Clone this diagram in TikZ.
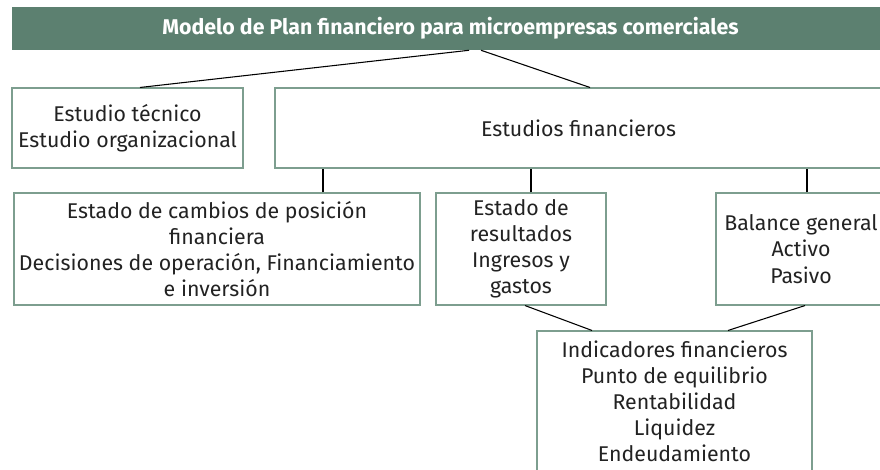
\documentclass[tikz,border=0pt]{standalone}
\usepackage{fontspec}
\setmainfont{Fira Sans}
\usepackage{tikz}
\usepackage{xcolor}

\definecolor{barragreen}{RGB}{92,128,112}
\definecolor{bordegreen}{RGB}{125,158,143}
\definecolor{textogris}{RGB}{34,34,34}

\tikzset{
  caja/.style={draw=bordegreen, line width=0.8pt, align=center, inner sep=0pt,
    text=textogris, font=\fontsize{16}{19.6}\selectfont},
  enlace/.style={draw=black, line width=0.8pt},
}

\begin{document}
\begin{tikzpicture}[x=0.75pt,y=0.75pt,yscale=-1,xscale=1]
\useasboundingbox (0,0) rectangle (880,469);

%Shape: Title bar
\node (titulo) [fill=barragreen, inner sep=0pt, minimum width=657.75pt, minimum height=32.25pt, text=white, font=\fontsize{16}{18}\selectfont\bfseries] at (450.5,28.5) {Modelo de Plan financiero para microempresas comerciales};

%Shape: Rectangle
\node (tecnico) [caja, minimum width=173.25pt, minimum height=60pt] at (127.5,128) {Estudio técnico\\Estudio organizacional};
%Shape: Rectangle
\node (financ) [caja, minimum width=455.25pt, minimum height=60pt] at (578.5,128) {Estudios financieros};

%Shape: Rectangle
\node (cambios) [caja, minimum width=304.5pt, minimum height=84pt] at (217,249) {Estado de cambios de posición\\financiera\\Decisiones de operación, Financiamiento\\e inversión};
%Shape: Rectangle
\node (resultados) [caja, minimum width=127.5pt, minimum height=84pt] at (521,249) {Estado de\\resultados\\Ingresos y\\gastos};
%Shape: Rectangle
\node (balance) [caja, minimum width=127.5pt, minimum height=84pt] at (801,249) {Balance general\\Activo\\Pasivo};

%Shape: Rectangle
\node (indicadores) [caja, minimum width=206.25pt, minimum height=105.75pt] at (674.5,401.5) {Indicadores financieros\\Punto de equilibrio\\Rentabilidad\\Liquidez\\Endeudamiento};

%Straight Lines
\draw [enlace] ([shift={(18.5,0)}]titulo.south) -- ([shift={(12.5,0)}]tecnico.north);
\draw [enlace] ([shift={(30.5,0)}]titulo.south) -- ([shift={(11.5,0)}]financ.north);
%Straight Lines
\draw [enlace] ([shift={(106,0)}]cambios.north) -- ([shift={(106,0)}]cambios.north |- financ.south);
\draw [enlace] ([shift={(10,0)}]resultados.north) -- ([shift={(10,0)}]resultados.north |- financ.south);
\draw [enlace] ([shift={(6,0)}]balance.north) -- ([shift={(6,0)}]balance.north |- financ.south);
%Straight Lines
\draw [enlace] ([shift={(4,0)}]resultados.south) -- ([shift={(-82.5,0)}]indicadores.north);
\draw [enlace] ([shift={(4,0)}]balance.south) -- ([shift={(53.5,0)}]indicadores.north);

\end{tikzpicture}
\end{document}
